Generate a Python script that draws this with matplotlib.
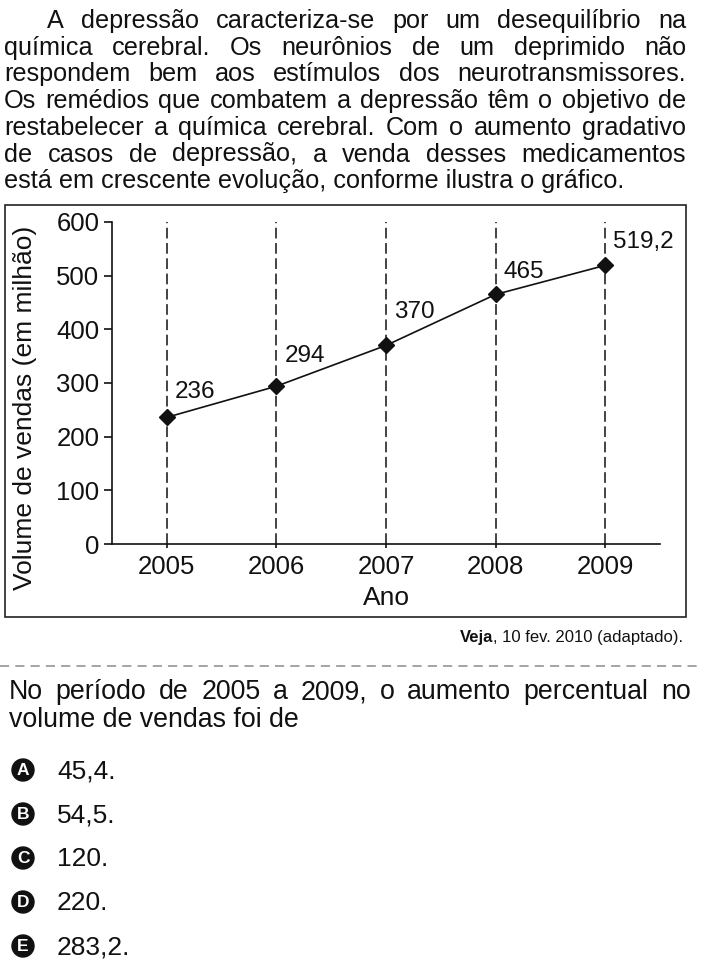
import matplotlib
matplotlib.use('Agg')
import matplotlib.pyplot as plt
from matplotlib.patches import Rectangle, Circle

plt.rcParams['font.family'] = ['Liberation Sans', 'DejaVu Sans']
plt.rcParams['text.color'] = '#111111'

# dados do grafico
anos = [2005, 2006, 2007, 2008, 2009]
vendas = [236, 294, 370, 465, 519.2]
rotulos = ['236', '294', '370', '465', '519,2']
yticks = [0, 100, 200, 300, 400, 500, 600]

# textos da questao
paragrafo = [
    'A depressão caracteriza-se por um desequilíbrio na',
    'química cerebral. Os neurônios de um deprimido não',
    'respondem bem aos estímulos dos neurotransmissores.',
    'Os remédios que combatem a depressão têm o objetivo de',
    'restabelecer a química cerebral. Com o aumento gradativo',
    'de casos de depressão, a venda desses medicamentos',
    'está em crescente evolução, conforme ilustra o gráfico.',
]
pergunta = [
    'No período de 2005 a 2009, o aumento percentual no',
    'volume de vendas foi de',
]
letras = ['A', 'B', 'C', 'D', 'E']
alternativas = ['45,4.', '54,5.', '120.', '220.', '283,2.']

W, H = 702, 972
fig = plt.figure(figsize=(W / 100, H / 100), dpi=100)
bg = fig.add_axes([0, 0, 1, 1])
bg.set_xlim(0, W)
bg.set_ylim(H, 0)
bg.axis('off')
rend = fig.canvas.get_renderer()


def justify(line, y, x0, x1, size, last=False):
    if last:
        bg.text(x0, y, line, fontsize=size, va='baseline')
        return
    words = line.split()
    ts = [bg.text(0, y, w, fontsize=size, va='baseline') for w in words]
    ws = [t.get_window_extent(renderer=rend).width for t in ts]
    gap = (x1 - x0 - sum(ws)) / (len(words) - 1)
    x = x0
    for t, w in zip(ts, ws):
        t.set_x(x)
        x += w + gap


# paragrafo de abertura
for i, line in enumerate(paragrafo):
    x0 = 47 if i == 0 else 4
    justify(line, 28 + i * 26.7, x0, 686, 18.2, last=(i == len(paragrafo) - 1))

# moldura do grafico
bg.add_patch(Rectangle((5, 205), 681, 412, fill=False, lw=1.2, ec='#222222'))

ax = fig.add_axes([112 / W, 1 - 544 / H, (660 - 112) / W, (544 - 222) / H])
ax.patch.set_alpha(0)
ax.vlines(anos, 0, 600, colors='#111111', linestyles=(0, (7, 3)), lw=1.1)
ax.plot(anos, vendas, color='#111111', lw=1.2, marker='D', ms=8, clip_on=False, zorder=3)
ax.set_xlim(2004.5, 2009.5)
ax.set_ylim(0, 600)
ax.set_xticks(anos)
ax.set_yticks(yticks)
for s in ['top', 'right']:
    ax.spines[s].set_visible(False)
for s in ['left', 'bottom']:
    ax.spines[s].set_linewidth(1.2)
    ax.spines[s].set_color('#111111')
ax.tick_params(axis='y', length=6, width=1.2, pad=3, labelsize=18.5, colors='#111111')
ax.tick_params(axis='x', length=3, width=1.2, pad=5, labelsize=18.5, colors='#111111')

label_dy = [19, 24, 27, 16, 17]
for ano, v, r, dy in zip(anos, vendas, rotulos, label_dy):
    ax.annotate(r, (ano, v), xytext=(8, dy), textcoords='offset pixels',
                fontsize=17.5, ha='left', va='baseline')

bg.text(25, 408, 'Volume de vendas (em milhão)', rotation=90, ha='center', va='center', fontsize=19)
bg.text(386, 598, 'Ano', ha='center', va='center', fontsize=19)

# fonte
t = bg.text(683, 642, ', 10 fev. 2010 (adaptado).', ha='right', va='baseline', fontsize=12)
w = t.get_window_extent(renderer=rend).width
bg.text(683 - w, 642, 'Veja', ha='right', va='baseline', fontsize=12, fontweight='bold')

# linha tracejada
bg.plot([0, W], [666, 666], color='#8c8c8c', lw=1.1, linestyle=(0, (6, 4)))

# pergunta
justify(pergunta[0], 699, 9, 691, 19.3)
justify(pergunta[1], 727, 9, 691, 19.3, last=True)

# alternativas
for i, (letra, alt) in enumerate(zip(letras, alternativas)):
    y = 778 + 44 * i
    bg.add_patch(Circle((23, y - 8), 11, color='#111111'))
    bg.text(23, y - 7.5, letra, color='white', fontweight='bold', fontsize=12.5, ha='center', va='center')
    bg.text(57, y, alt, fontsize=19, va='baseline')

fig.savefig('out.png', dpi=100)
